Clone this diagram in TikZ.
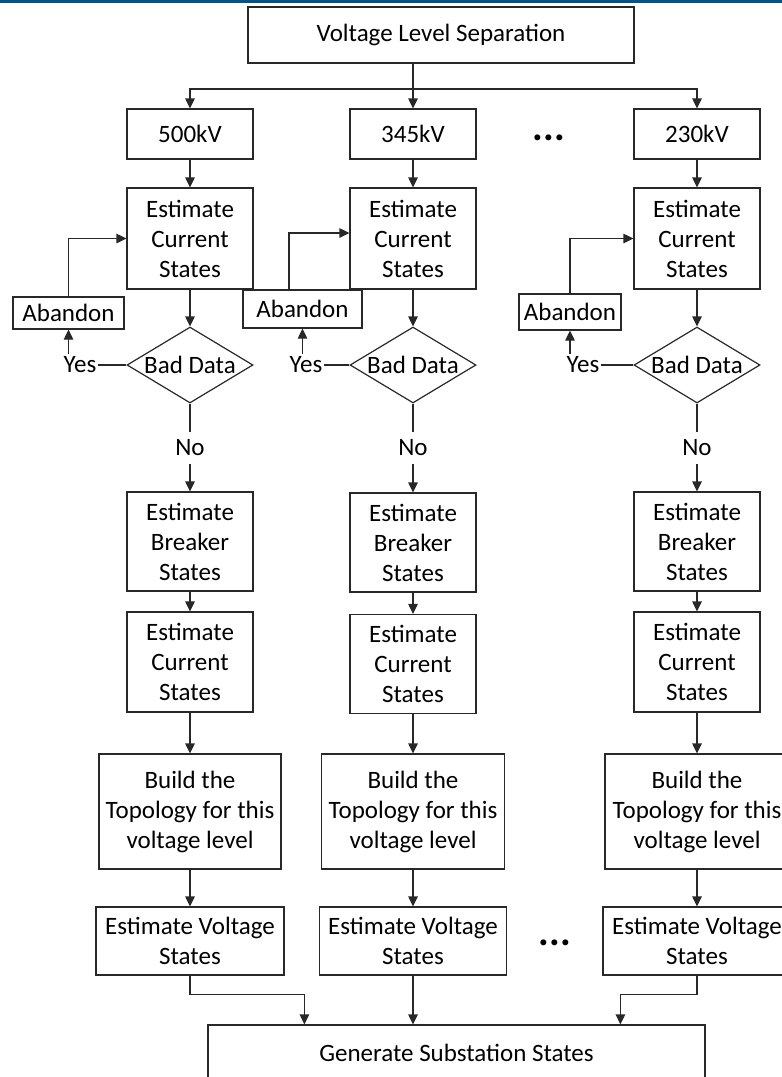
\documentclass[tikz,border=0pt]{standalone}
\usepackage{fontspec}
\setmainfont{Carlito}
\usetikzlibrary{arrows.meta,shapes.geometric,calc}
\definecolor{linec}{RGB}{40,40,40}
\definecolor{topblue}{RGB}{0,84,136}
\begin{document}
\begin{tikzpicture}[x=1pt,y=-1pt,
 every node/.style={font=\fontsize{25}{30}\selectfont, inner sep=0pt, align=center, text=black},
 box/.style={draw=linec, line width=1.2pt},
 dia/.style={draw=linec, line width=1.2pt, shape=diamond, aspect=1.66, inner sep=-2pt, minimum width=126, minimum height=76},
 lbl/.style={inner ysep=3pt, inner xsep=1pt},
 nolbl/.style={inner ysep=8pt, inner xsep=1pt},
 conn/.style={draw=linec, line width=1.2pt},
 arr/.style={conn, -{Triangle[width=9.5pt,length=10pt]}},
 dotsty/.style={font=\fontsize{40}{40}\selectfont\bfseries},
]
\useasboundingbox (0,0) rectangle (782,1077);
\clip (0,0) rectangle (782,1077);
\fill[topblue] (0,0) rectangle (782,2.5);

\node[box, minimum width=386, minimum height=56] (top) at (441,35) {Voltage Level Separation};

% level boxes
\node[box, minimum width=126, minimum height=50] (k1) at (190,134) {500kV};
\node[box, minimum width=126, minimum height=50] (k2) at (413,134) {345kV};
\node[box, minimum width=126, minimum height=50] (k3) at (697,134) {230kV};
\node[dotsty] (d1) at (549,138) {.\hspace{0.5pt}.\hspace{0.5pt}.};

% estimate current states
\node[box, minimum width=126, minimum height=101] (c1) at (190,238.5) {Estimate\\Current\\States};
\node[box, minimum width=126, minimum height=101] (c2) at (413,238.5) {Estimate\\Current\\States};
\node[box, minimum width=126, minimum height=101] (c3) at (697,238.5) {Estimate\\Current\\States};

% abandon
\node[box, minimum width=111, minimum height=32] (a1) at (68.5,313) {Abandon};
\node[box, minimum width=119, minimum height=38] (a2) at (302.5,309) {Abandon};
\node[box, minimum width=102, minimum height=36] (a3) at (570,312) {Abandon};

% bad data
\node[dia] (q1) at (190,365) {Bad Data};
\node[dia] (q2) at (413,365) {Bad Data};
\node[dia] (q3) at (697,365) {Bad Data};

\node[lbl] (y1) at (80,365) {Yes};
\node[lbl] (y2) at (306,365) {Yes};
\node[lbl] (y3) at (583,365) {Yes};

\node[nolbl] (n1) at (190,448) {No};
\node[nolbl] (n2) at (413,448) {No};
\node[nolbl] (n3) at (697,448) {No};

% breaker
\node[box, minimum width=126, minimum height=99] (b1) at (190,541.5) {Estimate\\Breaker\\States};
\node[box, minimum width=126, minimum height=99] (b2) at (413,542.5) {Estimate\\Breaker\\States};
\node[box, minimum width=126, minimum height=99] (b3) at (697,541.5) {Estimate\\Breaker\\States};

% current again
\node[box, minimum width=126, minimum height=100] (e1) at (190,662) {Estimate\\Current\\States};
\node[box, minimum width=126, minimum height=99] (e2) at (413,664) {Estimate\\Current\\States};
\node[box, minimum width=126, minimum height=100] (e3) at (697,662) {Estimate\\Current\\States};

% topology
\node[box, minimum width=182, minimum height=115] (t1) at (190,811.5) {Build the\\Topology for this\\voltage level};
\node[box, minimum width=183, minimum height=115] (t2) at (413,811.5) {Build the\\Topology for this\\voltage level};
\node[box, minimum width=184, minimum height=115] (t3) at (697,811.5) {Build the\\Topology for this\\voltage level};

% voltage
\node[box, minimum width=188, minimum height=68] (v1) at (190,941) {Estimate Voltage\\States};
\node[box, minimum width=187, minimum height=68] (v2) at (413,941) {Estimate Voltage\\States};
\node[box, minimum width=188, minimum height=68] (v3) at (697,941) {Estimate Voltage\\States};
\node[dotsty] (d2) at (555,943) {.\hspace{0.5pt}.\hspace{0.5pt}.};

% generate
\node[box, minimum width=497, minimum height=56] (gen) at (456.5,1053) {Generate Substation States};

% connectors
\coordinate (j) at (413,89);
\draw[conn] (top.south -| j) -- (j);
\draw[arr] (j) -| (k1.north);
\draw[arr] (j) -- (k2.north);
\draw[arr] (j) -| (k3.north);

\foreach \i in {1,2,3}{
  \draw[arr] (k\i) -- (c\i);
  \draw[arr] (c\i) -- (q\i);
  \draw[conn] (q\i) -- (n\i);
  \draw[arr] (n\i) -- (b\i);
  \draw[arr] (b\i) -- (e\i);
  \draw[arr] (e\i) -- (t\i);
  \draw[arr] (t\i) -- (v\i);
  \draw[conn] (y\i.east) -- (q\i.west);
  \draw[arr] (y\i.north -| a\i.south) -- (a\i.south);
}

\draw[arr] (a1.north) |- (c1.west);
\draw[arr] ($(a2.north)+(-13.5,0)$) |- ($(c2.west)+(0,-5.5)$);
\draw[arr] (a3.north) |- (c3.west);

\coordinate (g1) at ($(gen.north west)+(97,0)$);
\coordinate (g3) at ($(gen.north west)+(413,0)$);
\draw[arr] (v1.south) -- ++(0,19) -| (g1);
\draw[arr] (v2.south) -- (v2.south |- gen.north);
\draw[arr] (v3.south) -- ++(0,19) -| (g3);
\end{tikzpicture}
\end{document}
